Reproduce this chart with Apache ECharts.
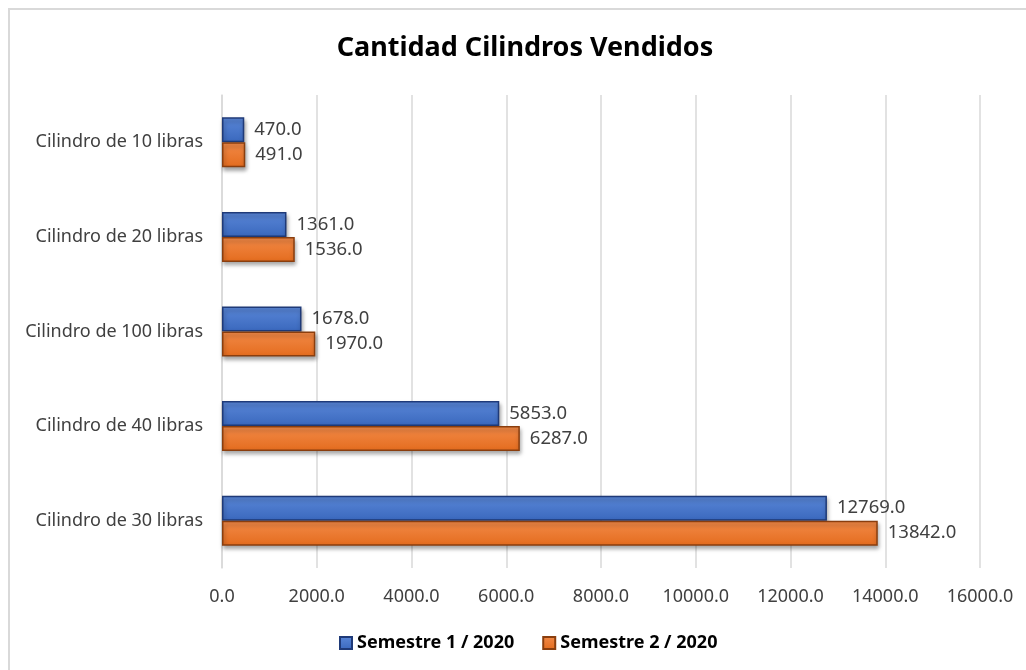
<!DOCTYPE html>
<html><head><meta charset="utf-8">
<script src="https://cdn.jsdelivr.net/npm/echarts@6/dist/echarts.min.js"></script>
<style>html,body{margin:0;padding:0;background:#fff}#c{width:1026px;height:670px}</style>
</head><body><div id="c"></div>
<script>
const categories = ['Cilindro de 10 libras','Cilindro de 20 libras','Cilindro de 100 libras','Cilindro de 40 libras','Cilindro de 30 libras'];
const sem1 = [470, 1361, 1678, 5853, 12769];
const sem2 = [491, 1536, 1970, 6287, 13842];
const seriesNames = ['Semestre 1 / 2020','Semestre 2 / 2020'];
const FONT = 'Noto Sans';

const chart = echarts.init(document.getElementById('c'), null, {renderer:'canvas'});
function grad(top, bottom){
  return new echarts.graphic.LinearGradient(0,0,0,1,[{offset:0,color:top},{offset:1,color:bottom}]);
}
const labelCfg = {show:true, position:'right', distance:10, color:'#404040', fontFamily:FONT, fontSize:18.5,
  formatter: p => p.value.toFixed(1)};
chart.setOption({
  animation:false,
  textStyle:{fontFamily:FONT},
  title:{text:'Cantidad Cilindros Vendidos', left:520, top:30, textAlign:'center',
    textStyle:{fontFamily:FONT, fontSize:27, fontWeight:'bold', color:'#000'}},
  graphic:[{type:'rect', shape:{x:9,y:9,width:1040,height:700}, style:{fill:'none', stroke:'#d9d9d9', lineWidth:2}, silent:true, z:-10}],
  legend:{bottom:13, left:334, icon:'rect', itemWidth:12, itemHeight:12, itemGap:28,
    data: seriesNames,
    textStyle:{fontFamily:FONT, fontSize:18, fontWeight:'bold', color:'#000'}},
  grid:{left:222, right:46, top:95, bottom:102},
  xAxis:{type:'value', min:0, max:16000, interval:2000,
    axisLine:{show:false}, axisTick:{show:false},
    splitLine:{lineStyle:{color:'#d9d9d9', width:1.5}},
    axisLabel:{formatter:v=>v.toFixed(1), color:'#404040', fontFamily:FONT, fontSize:18, margin:20}},
  yAxis:{type:'category', data:categories, inverse:true,
    axisLine:{show:true, lineStyle:{color:'#d9d9d9', width:1.5}}, axisTick:{show:false},
    axisLabel:{color:'#404040', fontFamily:FONT, fontSize:18, margin:19}},
  series:[
    {name:seriesNames[0], type:'bar', data:sem1, barWidth:25, barGap:'0%', barCategoryGap:'47%',
      itemStyle:{color:grad('#5a87d8','#3a68bd'), borderColor:'#1f3a78', borderWidth:1.5,
        shadowColor:'rgba(0,0,0,0.35)', shadowBlur:4, shadowOffsetY:3, shadowOffsetX:1},
      label:labelCfg},
    {name:seriesNames[1], type:'bar', data:sem2, barWidth:25,
      itemStyle:{color:grad('#f28a48','#e46c1e'), borderColor:'#8a3e0e', borderWidth:1.5,
        shadowColor:'rgba(0,0,0,0.35)', shadowBlur:4, shadowOffsetY:3, shadowOffsetX:1},
      label:labelCfg}
  ]
});
</script></body></html>
